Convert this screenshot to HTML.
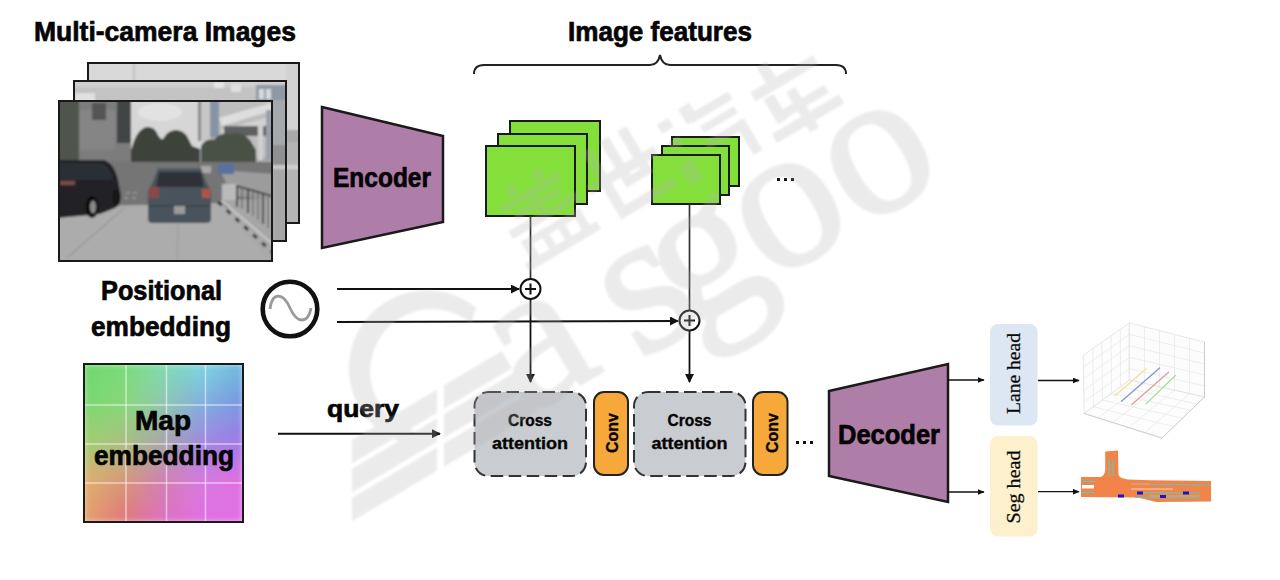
<!DOCTYPE html>
<html><head><meta charset="utf-8">
<style>
html,body{margin:0;padding:0;background:#fff;width:1280px;height:580px;overflow:hidden;}
svg{display:block;}
text{font-family:"Liberation Sans",sans-serif;font-weight:bold;fill:#050505;stroke:#050505;stroke-width:0.7;}
.serif{stroke:#222;stroke-width:0.3;}
text.sm{stroke-width:0.35;}
.serif{font-family:"Liberation Serif",serif;font-weight:normal;}
</style></head><body>
<svg width="1280" height="580" viewBox="0 0 1280 580">
<defs>
  <marker id="ah" viewBox="0 0 10 10" refX="9" refY="5" markerWidth="9" markerHeight="9" markerUnits="userSpaceOnUse" orient="auto">
    <path d="M0,0 L10,5 L0,10 z" fill="#111"/>
  </marker>
<clipPath id="cpFront"><rect x="59" y="101" width="213" height="160"/></clipPath>
<clipPath id="cpMid"><rect x="74" y="81" width="212" height="160"/></clipPath>
<clipPath id="cpBack"><rect x="88" y="63" width="211" height="160"/></clipPath>
<filter id="pblur" x="-5%" y="-5%" width="110%" height="110%"><feGaussianBlur stdDeviation="0.9"/></filter>

<clipPath id="cpMap"><rect x="84" y="364" width="159" height="158"/></clipPath>
<filter id="mblur" x="-5%" y="-5%" width="110%" height="110%"><feGaussianBlur stdDeviation="3"/></filter>
<filter id="wblur" x="-10%" y="-10%" width="120%" height="120%"><feGaussianBlur stdDeviation="1"/></filter>
<marker id="ahs" viewBox="0 0 10 10" refX="9" refY="5" markerWidth="7" markerHeight="6" markerUnits="userSpaceOnUse" orient="auto" preserveAspectRatio="none"><path d="M0,0 L10,5 L0,10 z" fill="#111"/></marker>
</defs>
<rect width="1280" height="580" fill="#fff"/>

<!-- Titles -->
<text x="34" y="41" font-size="27" textLength="262" lengthAdjust="spacingAndGlyphs">Multi-camera Images</text>
<text x="568" y="41" font-size="27" textLength="184" lengthAdjust="spacingAndGlyphs">Image features</text>

<!-- brace -->
<path d="M474,74 Q474,65 484,65 L650,65 Q658,65 660,55 Q662,65 670,65 L836,65 Q846,65 846,74" fill="none" stroke="#222" stroke-width="2"/>

<!-- camera frames -->
<g id="frames">
<!-- back frame -->
<g clip-path="url(#cpBack)"><g filter="url(#pblur)">
  <rect x="86" y="61" width="216" height="165" fill="#d9d9d9"/>
  <rect x="286" y="61" width="16" height="100" fill="#d2d2d2"/>
  <rect x="286" y="130" width="16" height="12" fill="#a9a9a9"/>
  <rect x="286" y="142" width="16" height="85" fill="#b5b5b5"/>
  <rect x="286" y="165" width="16" height="4" fill="#d0d0d0"/>
  <rect x="133" y="63" width="2" height="18" fill="#bdbdbd"/>
</g></g>
<rect x="88" y="63" width="211" height="160" fill="none" stroke="#1a1a1a" stroke-width="2"/>
<!-- middle frame -->
<g clip-path="url(#cpMid)"><g filter="url(#pblur)">
  <rect x="72" y="79" width="216" height="165" fill="#c3c3c3"/>
  <rect x="72" y="79" width="216" height="8" fill="#cfcfcf"/>
  <rect x="75" y="93" width="20" height="9" fill="#e0e0e0"/>
  <rect x="214" y="82" width="10" height="6" fill="#e6e6e6"/>
  <rect x="231" y="84" width="10" height="8" fill="#e0e0e0"/>
  <rect x="256" y="85" width="32" height="20" fill="#8f99a3"/>
  <rect x="259" y="89" width="5" height="10" fill="#d8dce0"/>
  <rect x="266" y="89" width="5" height="10" fill="#d8dce0"/>
  <rect x="272" y="100" width="16" height="45" fill="#a6a9ac"/>
  <rect x="272" y="145" width="16" height="20" fill="#8e9092"/>
  <rect x="272" y="165" width="16" height="4" fill="#c9c9c9"/>
  <rect x="272" y="169" width="16" height="75" fill="#a7a7a7"/>
</g></g>
<rect x="74" y="81" width="212" height="160" fill="none" stroke="#1a1a1a" stroke-width="2"/>
<!-- front frame -->
<g clip-path="url(#cpFront)"><g filter="url(#pblur)">
  <rect x="57" y="99" width="218" height="165" fill="#a9a9a9"/>
  <!-- sky -->
  <rect x="125" y="99" width="80" height="50" fill="#d6d6d6"/>
  <ellipse cx="160" cy="112" rx="22" ry="9" fill="#e2e2e2"/>
  <!-- left building -->
  <rect x="57" y="99" width="74" height="64" fill="#7c7c7c"/>
  <rect x="80" y="110" width="35" height="40" fill="#858585"/>
  <rect x="92" y="103" width="14" height="17" fill="#555"/>
  <rect x="117" y="99" width="14" height="44" fill="#434545"/>
  <rect x="57" y="99" width="22" height="64" fill="#4f554d"/>
  <!-- trees center -->
  <path d="M131,164 L131,150 L134,141 Q138,130 146,127 Q154,126 157,133 Q160,140 163,139 Q167,131 175,130 Q184,130 188,138 L192,146 L200,149 L200,165 Z" fill="#3d423b"/>
  <!-- tall building / glass -->
  <rect x="198" y="99" width="13" height="42" fill="#c6c6c6"/>
  <rect x="198" y="99" width="3" height="42" fill="#8a8a8a"/>
  <rect x="210" y="99" width="10" height="38" fill="#8793a5"/>
  <!-- right building -->
  <rect x="219" y="99" width="55" height="58" fill="#bdbdbd"/>
  <polygon points="219,118 274,102 274,110 222,126" fill="#dedede"/>
  <polygon points="221,130 274,116 274,123 224,137" fill="#d4d4d4"/>
  <rect x="224" y="126" width="50" height="10" fill="#5d5f60"/>
  <rect x="258" y="120" width="5" height="40" fill="#d0d0d0"/>
  <rect x="266" y="110" width="6" height="50" fill="#9aa0a8"/>
  <!-- right trees -->
  <path d="M201,166 L201,146 Q206,138 214,140 Q220,132 230,134 Q242,131 250,140 L256,150 L256,166 Z" fill="#4a5147"/>
  <!-- road -->
  <rect x="57" y="162" width="218" height="46" fill="#747476"/>
  <polygon points="220,170 274,174 274,200 232,196" fill="#9c9c9c"/>
  <rect x="218" y="164" width="16" height="10" fill="#5a70a0"/>
  <rect x="201" y="166" width="10" height="7" fill="#a8a8a8"/>
  <g fill="#9a9a9a"><rect x="126" y="192" width="4" height="1.5"/><rect x="133" y="192" width="4" height="1.5"/><rect x="124" y="197" width="4" height="1.5"/><rect x="132" y="197" width="4" height="1.5"/></g>
  <!-- sidewalk -->
  <polygon points="57,207 222,203 270,262 57,262" fill="#acacac"/>
  <polygon points="220,200 274,198 274,250" fill="#a6a6a6"/>
  <line x1="218" y1="202" x2="272" y2="252" stroke="#2e2e2e" stroke-width="3" stroke-dasharray="5 7"/>
  <line x1="222" y1="201" x2="275" y2="246" stroke="#c8c8c8" stroke-width="2"/>
  <line x1="124" y1="208" x2="67" y2="258" stroke="#8a8a8a" stroke-width="1"/>
  <line x1="178" y1="224" x2="177" y2="262" stroke="#9a9a9a" stroke-width="0.8"/>
  <rect x="222" y="184" width="15" height="16" fill="#bababa"/>
  <!-- fence -->
  <g stroke="#363b36" stroke-width="1.8">
    <line x1="237" y1="185" x2="237" y2="207"/><line x1="248" y1="189" x2="248" y2="213"/><line x1="263" y1="193" x2="263" y2="224"/>
    <line x1="237" y1="186" x2="272" y2="196"/>
  </g>
  <g stroke="#4a4f4a" stroke-width="0.9"><line x1="242" y1="188" x2="242" y2="209"/><line x1="253" y1="190" x2="253" y2="216"/><line x1="258" y1="192" x2="258" y2="220"/><line x1="268" y1="195" x2="268" y2="228"/></g>
  <!-- left black car -->
  <path d="M57,160 L104,160 Q114,163 118,180 L121,196 Q121,205 115,208 L100,214 L57,218 Z" fill="#222226"/>
  <path d="M60,163 L102,163 Q110,166 113,180 L60,180 Z" fill="#2c2f36"/>
  <rect x="60" y="181" width="15" height="4" fill="#7a4b4b"/>
  <ellipse cx="92" cy="207" rx="6.5" ry="11" fill="#101010"/>
  <ellipse cx="93" cy="207" rx="3" ry="6.5" fill="#8a8a8a"/>
  <ellipse cx="116" cy="197" rx="3.5" ry="8" fill="#151515"/>
  <!-- center car -->
  <path d="M158,168.5 L201,168.5 L206,182 L211,191 L211,219 Q211,223 206,223 L152,223 Q148,223 148,219 L148,191 L153,182 Z" fill="#4a525c"/>
  <path d="M159,172 L201,172 L204,187 L156,187 Z" fill="#2e3337"/>
  <rect x="149" y="187" width="10" height="11" fill="#8a4a48"/>
  <rect x="202" y="189" width="8" height="9" fill="#b05545"/>
  <rect x="148" y="205" width="63" height="2" fill="#3d444c"/>
  <rect x="174" y="206" width="11" height="8" fill="#9a9a9a"/>
</g></g>
<rect x="59" y="101" width="213" height="160" fill="none" stroke="#1a1a1a" stroke-width="2"/>
</g>

<!-- Encoder -->
<path d="M322,107 L443,136 L443,222 L322,248 Z" fill="#ae7ea8" stroke="#1a1a1a" stroke-width="2.5"/>
<text x="333" y="187" font-size="27" textLength="98" lengthAdjust="spacingAndGlyphs">Encoder</text>

<!-- Green stack 1 -->
<rect x="510" y="121" width="90" height="70" fill="#84df3a" stroke="#1a1a1a" stroke-width="2"/>
<rect x="498" y="134" width="89" height="70" fill="#84df3a" stroke="#1a1a1a" stroke-width="2"/>
<rect x="486" y="146" width="89" height="70" fill="#84df3a" stroke="#1a1a1a" stroke-width="2"/>
<!-- Green stack 2 -->
<rect x="672" y="137" width="67" height="49" fill="#84df3a" stroke="#1a1a1a" stroke-width="2"/>
<rect x="662" y="146" width="67" height="49" fill="#84df3a" stroke="#1a1a1a" stroke-width="2"/>
<rect x="652" y="155" width="68" height="49" fill="#84df3a" stroke="#1a1a1a" stroke-width="2"/>
<rect x="777" y="178" width="3" height="3" fill="#111"/><rect x="784" y="178" width="3" height="3" fill="#111"/><rect x="791" y="178" width="3" height="3" fill="#111"/>

<!-- stems and plus -->
<line x1="530.5" y1="216" x2="530.5" y2="279" stroke="#333" stroke-width="1.7"/>
<line x1="689.5" y1="204" x2="689.5" y2="310" stroke="#333" stroke-width="1.7"/>
<line x1="337" y1="289" x2="519" y2="289" stroke="#111" stroke-width="1.8" marker-end="url(#ah)"/>
<line x1="337" y1="322" x2="678" y2="321" stroke="#111" stroke-width="1.8" marker-end="url(#ah)"/>
<circle cx="530.5" cy="289" r="10" fill="#fff" stroke="#111" stroke-width="2"/>
<path d="M525,289 h11 M530.5,283.5 v11" stroke="#111" stroke-width="2"/>
<circle cx="689.5" cy="320.5" r="10" fill="#fff" stroke="#111" stroke-width="2"/>
<path d="M684,320.5 h11 M689.5,315 v11" stroke="#111" stroke-width="2"/>
<line x1="530.5" y1="299" x2="530.5" y2="382" stroke="#111" stroke-width="1.8" marker-end="url(#ah)"/>
<line x1="689.5" y1="330.5" x2="689.5" y2="382" stroke="#111" stroke-width="1.8" marker-end="url(#ah)"/>

<!-- positional embedding -->
<text x="101" y="300" font-size="27" textLength="121" lengthAdjust="spacingAndGlyphs">Positional</text>
<text x="91" y="336" font-size="27" textLength="140" lengthAdjust="spacingAndGlyphs">embedding</text>
<circle cx="290" cy="309" r="27.3" fill="#fff" stroke="#111" stroke-width="4.6"/>
<path d="M270,309 C272,292 283,292 290,308 C297,324 308,324 311,308" fill="none" stroke="#9a9a9a" stroke-width="2.8"/>

<!-- map embedding -->
<g clip-path="url(#cpMap)"><g filter="url(#mblur)">
<rect x="83.0" y="363.0" width="11.9" height="11.9" fill="#71d86f"/>
<rect x="92.9" y="363.0" width="11.9" height="11.9" fill="#73d972"/>
<rect x="102.9" y="363.0" width="11.9" height="11.9" fill="#76da74"/>
<rect x="112.8" y="363.0" width="11.9" height="11.9" fill="#79db77"/>
<rect x="122.8" y="363.0" width="11.9" height="11.9" fill="#7bdb7f"/>
<rect x="132.7" y="363.0" width="11.9" height="11.9" fill="#7ddb8d"/>
<rect x="142.6" y="363.0" width="11.9" height="11.9" fill="#7fda9b"/>
<rect x="152.6" y="363.0" width="11.9" height="11.9" fill="#81daa9"/>
<rect x="162.5" y="363.0" width="11.9" height="11.9" fill="#82d9b6"/>
<rect x="172.4" y="363.0" width="11.9" height="11.9" fill="#81d7c2"/>
<rect x="182.4" y="363.0" width="11.9" height="11.9" fill="#81d5ce"/>
<rect x="192.3" y="363.0" width="11.9" height="11.9" fill="#80d4da"/>
<rect x="202.2" y="363.0" width="11.9" height="11.9" fill="#7ecfe0"/>
<rect x="212.2" y="363.0" width="11.9" height="11.9" fill="#7ac7e0"/>
<rect x="222.1" y="363.0" width="11.9" height="11.9" fill="#77c0e0"/>
<rect x="232.1" y="363.0" width="11.9" height="11.9" fill="#73b8e0"/>
<rect x="83.0" y="372.9" width="11.9" height="11.9" fill="#73d870"/>
<rect x="92.9" y="372.9" width="11.9" height="11.9" fill="#76d972"/>
<rect x="102.9" y="372.9" width="11.9" height="11.9" fill="#79da75"/>
<rect x="112.8" y="372.9" width="11.9" height="11.9" fill="#7cda77"/>
<rect x="122.8" y="372.9" width="11.9" height="11.9" fill="#7fda7f"/>
<rect x="132.7" y="372.9" width="11.9" height="11.9" fill="#81d88d"/>
<rect x="142.6" y="372.9" width="11.9" height="11.9" fill="#83d79b"/>
<rect x="152.6" y="372.9" width="11.9" height="11.9" fill="#85d5a9"/>
<rect x="162.5" y="372.9" width="11.9" height="11.9" fill="#85d3b6"/>
<rect x="172.4" y="372.9" width="11.9" height="11.9" fill="#84d0c2"/>
<rect x="182.4" y="372.9" width="11.9" height="11.9" fill="#82cdce"/>
<rect x="192.3" y="372.9" width="11.9" height="11.9" fill="#81cada"/>
<rect x="202.2" y="372.9" width="11.9" height="11.9" fill="#7ec5e0"/>
<rect x="212.2" y="372.9" width="11.9" height="11.9" fill="#7bbee0"/>
<rect x="222.1" y="372.9" width="11.9" height="11.9" fill="#78b7e0"/>
<rect x="232.1" y="372.9" width="11.9" height="11.9" fill="#75b0e0"/>
<rect x="83.0" y="382.8" width="11.9" height="11.9" fill="#76d870"/>
<rect x="92.9" y="382.8" width="11.9" height="11.9" fill="#79d973"/>
<rect x="102.9" y="382.8" width="11.9" height="11.9" fill="#7dd975"/>
<rect x="112.8" y="382.8" width="11.9" height="11.9" fill="#80d977"/>
<rect x="122.8" y="382.8" width="11.9" height="11.9" fill="#83d87f"/>
<rect x="132.7" y="382.8" width="11.9" height="11.9" fill="#85d68d"/>
<rect x="142.6" y="382.8" width="11.9" height="11.9" fill="#87d39b"/>
<rect x="152.6" y="382.8" width="11.9" height="11.9" fill="#89d1a9"/>
<rect x="162.5" y="382.8" width="11.9" height="11.9" fill="#89cdb6"/>
<rect x="172.4" y="382.8" width="11.9" height="11.9" fill="#86c9c2"/>
<rect x="182.4" y="382.8" width="11.9" height="11.9" fill="#84c5ce"/>
<rect x="192.3" y="382.8" width="11.9" height="11.9" fill="#81c1da"/>
<rect x="202.2" y="382.8" width="11.9" height="11.9" fill="#7fbce0"/>
<rect x="212.2" y="382.8" width="11.9" height="11.9" fill="#7cb5e0"/>
<rect x="222.1" y="382.8" width="11.9" height="11.9" fill="#79aee0"/>
<rect x="232.1" y="382.8" width="11.9" height="11.9" fill="#76a7e0"/>
<rect x="83.0" y="392.6" width="11.9" height="11.9" fill="#79d871"/>
<rect x="92.9" y="392.6" width="11.9" height="11.9" fill="#7cd873"/>
<rect x="102.9" y="392.6" width="11.9" height="11.9" fill="#80d875"/>
<rect x="112.8" y="392.6" width="11.9" height="11.9" fill="#84d877"/>
<rect x="122.8" y="392.6" width="11.9" height="11.9" fill="#87d77f"/>
<rect x="132.7" y="392.6" width="11.9" height="11.9" fill="#89d38d"/>
<rect x="142.6" y="392.6" width="11.9" height="11.9" fill="#8bd09b"/>
<rect x="152.6" y="392.6" width="11.9" height="11.9" fill="#8dcca9"/>
<rect x="162.5" y="392.6" width="11.9" height="11.9" fill="#8cc8b6"/>
<rect x="172.4" y="392.6" width="11.9" height="11.9" fill="#89c2c2"/>
<rect x="182.4" y="392.6" width="11.9" height="11.9" fill="#85bdce"/>
<rect x="192.3" y="392.6" width="11.9" height="11.9" fill="#82b8da"/>
<rect x="202.2" y="392.6" width="11.9" height="11.9" fill="#7fb2e0"/>
<rect x="212.2" y="392.6" width="11.9" height="11.9" fill="#7dace0"/>
<rect x="222.1" y="392.6" width="11.9" height="11.9" fill="#7aa5e0"/>
<rect x="232.1" y="392.6" width="11.9" height="11.9" fill="#789fe0"/>
<rect x="83.0" y="402.5" width="11.9" height="11.9" fill="#7fd771"/>
<rect x="92.9" y="402.5" width="11.9" height="11.9" fill="#83d673"/>
<rect x="102.9" y="402.5" width="11.9" height="11.9" fill="#86d676"/>
<rect x="112.8" y="402.5" width="11.9" height="11.9" fill="#8ad578"/>
<rect x="122.8" y="402.5" width="11.9" height="11.9" fill="#8dd380"/>
<rect x="132.7" y="402.5" width="11.9" height="11.9" fill="#8fcf8d"/>
<rect x="142.6" y="402.5" width="11.9" height="11.9" fill="#90ca9b"/>
<rect x="152.6" y="402.5" width="11.9" height="11.9" fill="#92c6a8"/>
<rect x="162.5" y="402.5" width="11.9" height="11.9" fill="#91c1b5"/>
<rect x="172.4" y="402.5" width="11.9" height="11.9" fill="#8dbbc1"/>
<rect x="182.4" y="402.5" width="11.9" height="11.9" fill="#8ab4ce"/>
<rect x="192.3" y="402.5" width="11.9" height="11.9" fill="#86aeda"/>
<rect x="202.2" y="402.5" width="11.9" height="11.9" fill="#83a8e0"/>
<rect x="212.2" y="402.5" width="11.9" height="11.9" fill="#81a2e0"/>
<rect x="222.1" y="402.5" width="11.9" height="11.9" fill="#809de1"/>
<rect x="232.1" y="402.5" width="11.9" height="11.9" fill="#7e97e1"/>
<rect x="83.0" y="412.4" width="11.9" height="11.9" fill="#89d471"/>
<rect x="92.9" y="412.4" width="11.9" height="11.9" fill="#8cd374"/>
<rect x="102.9" y="412.4" width="11.9" height="11.9" fill="#8fd177"/>
<rect x="112.8" y="412.4" width="11.9" height="11.9" fill="#92d07a"/>
<rect x="122.8" y="412.4" width="11.9" height="11.9" fill="#95cd81"/>
<rect x="132.7" y="412.4" width="11.9" height="11.9" fill="#96c88e"/>
<rect x="142.6" y="412.4" width="11.9" height="11.9" fill="#97c39a"/>
<rect x="152.6" y="412.4" width="11.9" height="11.9" fill="#98bea7"/>
<rect x="162.5" y="412.4" width="11.9" height="11.9" fill="#97b9b3"/>
<rect x="172.4" y="412.4" width="11.9" height="11.9" fill="#94b2c0"/>
<rect x="182.4" y="412.4" width="11.9" height="11.9" fill="#91abcd"/>
<rect x="192.3" y="412.4" width="11.9" height="11.9" fill="#8ea4da"/>
<rect x="202.2" y="412.4" width="11.9" height="11.9" fill="#8b9ee0"/>
<rect x="212.2" y="412.4" width="11.9" height="11.9" fill="#8a99e1"/>
<rect x="222.1" y="412.4" width="11.9" height="11.9" fill="#8994e2"/>
<rect x="232.1" y="412.4" width="11.9" height="11.9" fill="#888fe3"/>
<rect x="83.0" y="422.2" width="11.9" height="11.9" fill="#92d272"/>
<rect x="92.9" y="422.2" width="11.9" height="11.9" fill="#95cf75"/>
<rect x="102.9" y="422.2" width="11.9" height="11.9" fill="#98cd78"/>
<rect x="112.8" y="422.2" width="11.9" height="11.9" fill="#9bca7b"/>
<rect x="122.8" y="422.2" width="11.9" height="11.9" fill="#9cc683"/>
<rect x="132.7" y="422.2" width="11.9" height="11.9" fill="#9dc18e"/>
<rect x="142.6" y="422.2" width="11.9" height="11.9" fill="#9ebc9a"/>
<rect x="152.6" y="422.2" width="11.9" height="11.9" fill="#9fb7a5"/>
<rect x="162.5" y="422.2" width="11.9" height="11.9" fill="#9eb0b2"/>
<rect x="172.4" y="422.2" width="11.9" height="11.9" fill="#9ba9bf"/>
<rect x="182.4" y="422.2" width="11.9" height="11.9" fill="#98a2cc"/>
<rect x="192.3" y="422.2" width="11.9" height="11.9" fill="#959bd9"/>
<rect x="202.2" y="422.2" width="11.9" height="11.9" fill="#9495e1"/>
<rect x="212.2" y="422.2" width="11.9" height="11.9" fill="#9390e2"/>
<rect x="222.1" y="422.2" width="11.9" height="11.9" fill="#928be3"/>
<rect x="232.1" y="422.2" width="11.9" height="11.9" fill="#9186e4"/>
<rect x="83.0" y="432.1" width="11.9" height="11.9" fill="#9ccf72"/>
<rect x="92.9" y="432.1" width="11.9" height="11.9" fill="#9ecc76"/>
<rect x="102.9" y="432.1" width="11.9" height="11.9" fill="#a1c879"/>
<rect x="112.8" y="432.1" width="11.9" height="11.9" fill="#a3c57d"/>
<rect x="122.8" y="432.1" width="11.9" height="11.9" fill="#a4c084"/>
<rect x="132.7" y="432.1" width="11.9" height="11.9" fill="#a4ba8f"/>
<rect x="142.6" y="432.1" width="11.9" height="11.9" fill="#a5b599"/>
<rect x="152.6" y="432.1" width="11.9" height="11.9" fill="#a5afa4"/>
<rect x="162.5" y="432.1" width="11.9" height="11.9" fill="#a4a8b0"/>
<rect x="172.4" y="432.1" width="11.9" height="11.9" fill="#a2a0be"/>
<rect x="182.4" y="432.1" width="11.9" height="11.9" fill="#9f99cb"/>
<rect x="192.3" y="432.1" width="11.9" height="11.9" fill="#9d91d9"/>
<rect x="202.2" y="432.1" width="11.9" height="11.9" fill="#9c8be1"/>
<rect x="212.2" y="432.1" width="11.9" height="11.9" fill="#9c87e3"/>
<rect x="222.1" y="432.1" width="11.9" height="11.9" fill="#9b82e4"/>
<rect x="232.1" y="432.1" width="11.9" height="11.9" fill="#9b7ee6"/>
<rect x="83.0" y="442.0" width="11.9" height="11.9" fill="#a9ca72"/>
<rect x="92.9" y="442.0" width="11.9" height="11.9" fill="#aac676"/>
<rect x="102.9" y="442.0" width="11.9" height="11.9" fill="#acc179"/>
<rect x="112.8" y="442.0" width="11.9" height="11.9" fill="#adbd7d"/>
<rect x="122.8" y="442.0" width="11.9" height="11.9" fill="#aeb884"/>
<rect x="132.7" y="442.0" width="11.9" height="11.9" fill="#aeb28f"/>
<rect x="142.6" y="442.0" width="11.9" height="11.9" fill="#adac99"/>
<rect x="152.6" y="442.0" width="11.9" height="11.9" fill="#ada6a4"/>
<rect x="162.5" y="442.0" width="11.9" height="11.9" fill="#ac9fb0"/>
<rect x="172.4" y="442.0" width="11.9" height="11.9" fill="#ab98be"/>
<rect x="182.4" y="442.0" width="11.9" height="11.9" fill="#a991cb"/>
<rect x="192.3" y="442.0" width="11.9" height="11.9" fill="#a88ad9"/>
<rect x="202.2" y="442.0" width="11.9" height="11.9" fill="#a784e1"/>
<rect x="212.2" y="442.0" width="11.9" height="11.9" fill="#a780e3"/>
<rect x="222.1" y="442.0" width="11.9" height="11.9" fill="#a87de4"/>
<rect x="232.1" y="442.0" width="11.9" height="11.9" fill="#a879e6"/>
<rect x="83.0" y="451.9" width="11.9" height="11.9" fill="#b8c272"/>
<rect x="92.9" y="451.9" width="11.9" height="11.9" fill="#b9bd75"/>
<rect x="102.9" y="451.9" width="11.9" height="11.9" fill="#b9b878"/>
<rect x="112.8" y="451.9" width="11.9" height="11.9" fill="#bab37b"/>
<rect x="122.8" y="451.9" width="11.9" height="11.9" fill="#baae83"/>
<rect x="132.7" y="451.9" width="11.9" height="11.9" fill="#b9a88e"/>
<rect x="142.6" y="451.9" width="11.9" height="11.9" fill="#b8a29a"/>
<rect x="152.6" y="451.9" width="11.9" height="11.9" fill="#b79ca5"/>
<rect x="162.5" y="451.9" width="11.9" height="11.9" fill="#b796b2"/>
<rect x="172.4" y="451.9" width="11.9" height="11.9" fill="#b690bf"/>
<rect x="182.4" y="451.9" width="11.9" height="11.9" fill="#b68bcc"/>
<rect x="192.3" y="451.9" width="11.9" height="11.9" fill="#b585d9"/>
<rect x="202.2" y="451.9" width="11.9" height="11.9" fill="#b580e1"/>
<rect x="212.2" y="451.9" width="11.9" height="11.9" fill="#b67de2"/>
<rect x="222.1" y="451.9" width="11.9" height="11.9" fill="#b77ae3"/>
<rect x="232.1" y="451.9" width="11.9" height="11.9" fill="#b877e4"/>
<rect x="83.0" y="461.8" width="11.9" height="11.9" fill="#c8b971"/>
<rect x="92.9" y="461.8" width="11.9" height="11.9" fill="#c7b474"/>
<rect x="102.9" y="461.8" width="11.9" height="11.9" fill="#c7af77"/>
<rect x="112.8" y="461.8" width="11.9" height="11.9" fill="#c6aa7a"/>
<rect x="122.8" y="461.8" width="11.9" height="11.9" fill="#c5a481"/>
<rect x="132.7" y="461.8" width="11.9" height="11.9" fill="#c49e8e"/>
<rect x="142.6" y="461.8" width="11.9" height="11.9" fill="#c3989a"/>
<rect x="152.6" y="461.8" width="11.9" height="11.9" fill="#c292a7"/>
<rect x="162.5" y="461.8" width="11.9" height="11.9" fill="#c18db3"/>
<rect x="172.4" y="461.8" width="11.9" height="11.9" fill="#c289c0"/>
<rect x="182.4" y="461.8" width="11.9" height="11.9" fill="#c284cd"/>
<rect x="192.3" y="461.8" width="11.9" height="11.9" fill="#c380da"/>
<rect x="202.2" y="461.8" width="11.9" height="11.9" fill="#c47de0"/>
<rect x="212.2" y="461.8" width="11.9" height="11.9" fill="#c57ae1"/>
<rect x="222.1" y="461.8" width="11.9" height="11.9" fill="#c677e2"/>
<rect x="232.1" y="461.8" width="11.9" height="11.9" fill="#c774e3"/>
<rect x="83.0" y="471.6" width="11.9" height="11.9" fill="#d7b171"/>
<rect x="92.9" y="471.6" width="11.9" height="11.9" fill="#d6ab73"/>
<rect x="102.9" y="471.6" width="11.9" height="11.9" fill="#d4a676"/>
<rect x="112.8" y="471.6" width="11.9" height="11.9" fill="#d3a078"/>
<rect x="122.8" y="471.6" width="11.9" height="11.9" fill="#d19a80"/>
<rect x="132.7" y="471.6" width="11.9" height="11.9" fill="#cf948d"/>
<rect x="142.6" y="471.6" width="11.9" height="11.9" fill="#ce8e9b"/>
<rect x="152.6" y="471.6" width="11.9" height="11.9" fill="#cc88a8"/>
<rect x="162.5" y="471.6" width="11.9" height="11.9" fill="#cc84b5"/>
<rect x="172.4" y="471.6" width="11.9" height="11.9" fill="#cd81c1"/>
<rect x="182.4" y="471.6" width="11.9" height="11.9" fill="#cf7ece"/>
<rect x="192.3" y="471.6" width="11.9" height="11.9" fill="#d07bda"/>
<rect x="202.2" y="471.6" width="11.9" height="11.9" fill="#d279e0"/>
<rect x="212.2" y="471.6" width="11.9" height="11.9" fill="#d477e0"/>
<rect x="222.1" y="471.6" width="11.9" height="11.9" fill="#d574e1"/>
<rect x="232.1" y="471.6" width="11.9" height="11.9" fill="#d772e1"/>
<rect x="83.0" y="481.5" width="11.9" height="11.9" fill="#e0ab71"/>
<rect x="92.9" y="481.5" width="11.9" height="11.9" fill="#dea473"/>
<rect x="102.9" y="481.5" width="11.9" height="11.9" fill="#dc9e75"/>
<rect x="112.8" y="481.5" width="11.9" height="11.9" fill="#da9777"/>
<rect x="122.8" y="481.5" width="11.9" height="11.9" fill="#d8917f"/>
<rect x="132.7" y="481.5" width="11.9" height="11.9" fill="#d68c8e"/>
<rect x="142.6" y="481.5" width="11.9" height="11.9" fill="#d5869c"/>
<rect x="152.6" y="481.5" width="11.9" height="11.9" fill="#d381ab"/>
<rect x="162.5" y="481.5" width="11.9" height="11.9" fill="#d37db8"/>
<rect x="172.4" y="481.5" width="11.9" height="11.9" fill="#d57bc3"/>
<rect x="182.4" y="481.5" width="11.9" height="11.9" fill="#d67acf"/>
<rect x="192.3" y="481.5" width="11.9" height="11.9" fill="#d878da"/>
<rect x="202.2" y="481.5" width="11.9" height="11.9" fill="#da76e0"/>
<rect x="212.2" y="481.5" width="11.9" height="11.9" fill="#dc74e0"/>
<rect x="222.1" y="481.5" width="11.9" height="11.9" fill="#dd73e1"/>
<rect x="232.1" y="481.5" width="11.9" height="11.9" fill="#df71e1"/>
<rect x="83.0" y="491.4" width="11.9" height="11.9" fill="#e2a671"/>
<rect x="92.9" y="491.4" width="11.9" height="11.9" fill="#e09f73"/>
<rect x="102.9" y="491.4" width="11.9" height="11.9" fill="#de9775"/>
<rect x="112.8" y="491.4" width="11.9" height="11.9" fill="#dc9077"/>
<rect x="122.8" y="491.4" width="11.9" height="11.9" fill="#da8a80"/>
<rect x="132.7" y="491.4" width="11.9" height="11.9" fill="#d9858f"/>
<rect x="142.6" y="491.4" width="11.9" height="11.9" fill="#d8819f"/>
<rect x="152.6" y="491.4" width="11.9" height="11.9" fill="#d77cae"/>
<rect x="162.5" y="491.4" width="11.9" height="11.9" fill="#d779bb"/>
<rect x="172.4" y="491.4" width="11.9" height="11.9" fill="#d878c6"/>
<rect x="182.4" y="491.4" width="11.9" height="11.9" fill="#d977d0"/>
<rect x="192.3" y="491.4" width="11.9" height="11.9" fill="#da76db"/>
<rect x="202.2" y="491.4" width="11.9" height="11.9" fill="#dc74e0"/>
<rect x="212.2" y="491.4" width="11.9" height="11.9" fill="#dd73e1"/>
<rect x="222.1" y="491.4" width="11.9" height="11.9" fill="#de72e2"/>
<rect x="232.1" y="491.4" width="11.9" height="11.9" fill="#df71e3"/>
<rect x="83.0" y="501.2" width="11.9" height="11.9" fill="#e4a271"/>
<rect x="92.9" y="501.2" width="11.9" height="11.9" fill="#e29973"/>
<rect x="102.9" y="501.2" width="11.9" height="11.9" fill="#e09175"/>
<rect x="112.8" y="501.2" width="11.9" height="11.9" fill="#de8877"/>
<rect x="122.8" y="501.2" width="11.9" height="11.9" fill="#dd8280"/>
<rect x="132.7" y="501.2" width="11.9" height="11.9" fill="#dc7f91"/>
<rect x="142.6" y="501.2" width="11.9" height="11.9" fill="#db7ba1"/>
<rect x="152.6" y="501.2" width="11.9" height="11.9" fill="#da78b2"/>
<rect x="162.5" y="501.2" width="11.9" height="11.9" fill="#da76bf"/>
<rect x="172.4" y="501.2" width="11.9" height="11.9" fill="#db75c8"/>
<rect x="182.4" y="501.2" width="11.9" height="11.9" fill="#dc74d2"/>
<rect x="192.3" y="501.2" width="11.9" height="11.9" fill="#dd73db"/>
<rect x="202.2" y="501.2" width="11.9" height="11.9" fill="#dd73e1"/>
<rect x="212.2" y="501.2" width="11.9" height="11.9" fill="#de72e2"/>
<rect x="222.1" y="501.2" width="11.9" height="11.9" fill="#df71e3"/>
<rect x="232.1" y="501.2" width="11.9" height="11.9" fill="#e070e4"/>
<rect x="83.0" y="511.1" width="11.9" height="11.9" fill="#e69d71"/>
<rect x="92.9" y="511.1" width="11.9" height="11.9" fill="#e49473"/>
<rect x="102.9" y="511.1" width="11.9" height="11.9" fill="#e28a75"/>
<rect x="112.8" y="511.1" width="11.9" height="11.9" fill="#e08177"/>
<rect x="122.8" y="511.1" width="11.9" height="11.9" fill="#df7b81"/>
<rect x="132.7" y="511.1" width="11.9" height="11.9" fill="#df7892"/>
<rect x="142.6" y="511.1" width="11.9" height="11.9" fill="#de76a4"/>
<rect x="152.6" y="511.1" width="11.9" height="11.9" fill="#de73b5"/>
<rect x="162.5" y="511.1" width="11.9" height="11.9" fill="#de72c2"/>
<rect x="172.4" y="511.1" width="11.9" height="11.9" fill="#de72cb"/>
<rect x="182.4" y="511.1" width="11.9" height="11.9" fill="#df71d3"/>
<rect x="192.3" y="511.1" width="11.9" height="11.9" fill="#df71dc"/>
<rect x="202.2" y="511.1" width="11.9" height="11.9" fill="#df71e1"/>
<rect x="212.2" y="511.1" width="11.9" height="11.9" fill="#df71e3"/>
<rect x="222.1" y="511.1" width="11.9" height="11.9" fill="#e070e4"/>
<rect x="232.1" y="511.1" width="11.9" height="11.9" fill="#e070e6"/>
</g>
<g stroke="#ffffff" stroke-opacity="0.55" stroke-width="1.5"><line x1="126" y1="364" x2="126" y2="522"/><line x1="166.5" y1="364" x2="166.5" y2="522"/><line x1="205.5" y1="364" x2="205.5" y2="522"/><line x1="84" y1="405" x2="243" y2="405"/><line x1="84" y1="444" x2="243" y2="444"/><line x1="84" y1="483" x2="243" y2="483"/></g></g>
<rect x="84" y="364" width="159" height="158" fill="none" stroke="#1a1a1a" stroke-width="2"/>
<text x="135" y="430" font-size="27" textLength="56" lengthAdjust="spacingAndGlyphs">Map</text>
<text x="94" y="465" font-size="27" textLength="140" lengthAdjust="spacingAndGlyphs">embedding</text>

<!-- query -->
<text x="327" y="417" font-size="24" textLength="72" lengthAdjust="spacingAndGlyphs">query</text>
<line x1="278" y1="433.7" x2="440" y2="433.7" stroke="#111" stroke-width="2" marker-end="url(#ah)"/>

<!-- cross attention -->
<rect x="474.5" y="392" width="111.5" height="84" rx="14" fill="#c9ccd0" stroke="#333" stroke-width="2" stroke-dasharray="12.5 5.5"/>
<text x="508" y="425.5" class="sm" font-size="16" textLength="44" lengthAdjust="spacingAndGlyphs">Cross</text>
<text x="492" y="449" class="sm" font-size="16" textLength="76" lengthAdjust="spacingAndGlyphs">attention</text>
<rect x="594" y="392" width="34" height="83" rx="10" fill="#f6a83b" stroke="#222" stroke-width="2"/>
<text transform="translate(618,453) rotate(-90)" x="0" y="0" class="sm" font-size="16" textLength="40" lengthAdjust="spacingAndGlyphs">Conv</text>

<rect x="634" y="392" width="111.5" height="84" rx="14" fill="#c9ccd0" stroke="#333" stroke-width="2" stroke-dasharray="12.5 5.5"/>
<text x="667.5" y="425.5" class="sm" font-size="16" textLength="44" lengthAdjust="spacingAndGlyphs">Cross</text>
<text x="651.5" y="449" class="sm" font-size="16" textLength="76" lengthAdjust="spacingAndGlyphs">attention</text>
<rect x="753" y="392" width="34.5" height="83" rx="10" fill="#f6a83b" stroke="#222" stroke-width="2"/>
<text transform="translate(777.5,453) rotate(-90)" x="0" y="0" class="sm" font-size="16" textLength="40" lengthAdjust="spacingAndGlyphs">Conv</text>
<rect x="796" y="441" width="3" height="3" fill="#111"/><rect x="803" y="441" width="3" height="3" fill="#111"/><rect x="810" y="441" width="3" height="3" fill="#111"/>

<!-- decoder -->
<path d="M829,391 L948,364 L948,502 L829,476 Z" fill="#ae7ea8" stroke="#1a1a1a" stroke-width="2.5"/>
<text x="838" y="444" font-size="27" textLength="102" lengthAdjust="spacingAndGlyphs">Decoder</text>
<line x1="948" y1="380" x2="984" y2="380" stroke="#111" stroke-width="1.3" marker-end="url(#ahs)"/>
<line x1="948" y1="492" x2="984" y2="492" stroke="#111" stroke-width="1.3" marker-end="url(#ahs)"/>

<!-- heads -->
<rect x="990" y="324" width="47.5" height="101.5" rx="8" fill="#dde7f3"/>
<rect x="990" y="436" width="47.5" height="100.5" rx="8" fill="#fdf0cd"/>
<text class="serif" transform="translate(1020,414) rotate(-90)" font-size="19" textLength="81" lengthAdjust="spacingAndGlyphs">Lane head</text>
<text class="serif" transform="translate(1020,523.5) rotate(-90)" font-size="19" textLength="73" lengthAdjust="spacingAndGlyphs">Seg head</text>
<line x1="1038" y1="380.5" x2="1079" y2="380.5" stroke="#111" stroke-width="1.3" marker-end="url(#ahs)"/>
<line x1="1038" y1="491.7" x2="1079" y2="491.7" stroke="#111" stroke-width="1.3" marker-end="url(#ahs)"/>

<!-- 3D plot -->
<g id="plot3d" fill="none" stroke-linecap="round">
  <!-- panes -->
  <polygon points="1083.5,355 1129.5,323 1129.5,380 1084.5,413.5" fill="#fdfdfd" stroke="#dcdcdc" stroke-width="0.7"/>
  <polygon points="1129.5,323 1204.5,342 1204.5,397 1129.5,380" fill="#fcfcfc" stroke="#dcdcdc" stroke-width="0.7"/>
  <polygon points="1084.5,413.5 1129.5,380 1204.5,397 1162,438" fill="#fdfdfd" stroke="#dcdcdc" stroke-width="0.7"/>
  <g stroke="#e2e2e2" stroke-width="0.6">
    <!-- left wall verticals -->
    <line x1="1092.7" y1="348.6" x2="1093.5" y2="406.8"/><line x1="1101.9" y1="342.2" x2="1102.5" y2="400.1"/><line x1="1111.1" y1="335.8" x2="1111.5" y2="393.4"/><line x1="1120.3" y1="329.4" x2="1120.5" y2="386.7"/>
    <!-- left wall horizontals -->
    <line x1="1083.7" y1="366.7" x2="1129.5" y2="334.4"/><line x1="1084" y1="378.4" x2="1129.5" y2="345.8"/><line x1="1084.2" y1="390" x2="1129.5" y2="357.2"/><line x1="1084.4" y1="401.8" x2="1129.5" y2="368.6"/>
    <!-- back wall verticals -->
    <line x1="1144.5" y1="326.8" x2="1144.5" y2="383.4"/><line x1="1159.5" y1="330.6" x2="1159.5" y2="386.8"/><line x1="1174.5" y1="334.4" x2="1174.5" y2="390.2"/><line x1="1189.5" y1="338.2" x2="1189.5" y2="393.6"/>
    <!-- back wall horizontals -->
    <line x1="1129.5" y1="334.4" x2="1204.5" y2="353"/><line x1="1129.5" y1="345.8" x2="1204.5" y2="364"/><line x1="1129.5" y1="357.2" x2="1204.5" y2="375"/><line x1="1129.5" y1="368.6" x2="1204.5" y2="386"/>
    <!-- floor lines -->
    <line x1="1093.5" y1="406.8" x2="1173.5" y2="426.5"/><line x1="1102.5" y1="400.1" x2="1182" y2="418"/><line x1="1111.5" y1="393.4" x2="1190" y2="410"/><line x1="1120.5" y1="386.7" x2="1197" y2="404"/>
    <line x1="1144.5" y1="383.4" x2="1097" y2="418.5"/><line x1="1159.5" y1="386.8" x2="1111" y2="423.5"/><line x1="1174.5" y1="390.2" x2="1127" y2="429"/><line x1="1189.5" y1="393.6" x2="1144" y2="433.5"/>
  </g>
  <g stroke="#bbb" stroke-width="0.6">
    <line x1="1084.5" y1="413.5" x2="1162" y2="438"/><line x1="1162" y1="438" x2="1204.5" y2="397"/>
    <line x1="1204.5" y1="342" x2="1204.5" y2="397"/>
  </g>
  <line x1="1114.8" y1="395.7" x2="1146.2" y2="368.8" stroke="#eee58a" stroke-width="1.2"/>
  <line x1="1121.5" y1="401.3" x2="1159.6" y2="368" stroke="#8a90d8" stroke-width="1.2"/>
  <line x1="1131.6" y1="404.7" x2="1168.6" y2="372.2" stroke="#e09a9a" stroke-width="1.2"/>
  <line x1="1146.2" y1="403.6" x2="1175.4" y2="375.5" stroke="#98e098" stroke-width="1.2"/>
</g>
<!-- seg map -->
<g id="segmap">
  <path d="M1105.2,451.5 L1118,450.5 L1118.5,475 Q1120,478.5 1128,479.5 L1150,480.2 L1211,481 L1211,501.5 L1156,502 L1138,497.5 L1081,497 L1081,477 L1101,477 Q1105,475 1105.2,470 Z" fill="#f2844a"/>
  <g stroke="#5ec8c0" stroke-width="1.2">
    <line x1="1109" y1="459" x2="1109" y2="476"/><line x1="1113" y1="459" x2="1113" y2="476"/>
    <line x1="1082" y1="481.5" x2="1095" y2="481.5"/><line x1="1082" y1="492.5" x2="1095" y2="492.5"/>
    <line x1="1150" y1="484.5" x2="1210" y2="485"/><line x1="1136" y1="492.8" x2="1200" y2="493"/>
    <line x1="1135" y1="497.5" x2="1200" y2="498"/>
  </g>
  <g stroke="#c8b090" stroke-width="1.2">
    <line x1="1131" y1="484" x2="1150" y2="484.2"/><line x1="1150" y1="496" x2="1199" y2="496"/>
  </g>
  <rect x="1082" y="485" width="12" height="3.5" fill="#ffffff"/>
  <line x1="1131" y1="489" x2="1173" y2="489" stroke="#f8d0b8" stroke-width="1"/>
  <g fill="#1515c8">
    <rect x="1118" y="494.5" width="6" height="3"/><rect x="1137" y="491.5" width="6" height="3"/>
    <rect x="1160" y="495" width="6" height="3"/><rect x="1183" y="491.5" width="6" height="3"/>
  </g>
</g>

<g id="wm" opacity="0.26" filter="url(#wblur)"><g transform="translate(791,215.3) rotate(-30.7)" fill="#b4b4b4" stroke="none">
<text x="-330.0" y="37.7" style="font-family:'Liberation Serif',serif;font-weight:normal;fill:#b4b4b4;stroke:#b4b4b4;stroke-width:3" font-size="207">a</text>
<text x="-205.0" y="47.7" style="font-family:'Liberation Serif',serif;font-weight:normal;fill:#b4b4b4;stroke:#b4b4b4;stroke-width:3" font-size="207">s</text>
<text x="-148.6" y="47.7" style="font-family:'Liberation Serif',serif;font-weight:normal;fill:#b4b4b4;stroke:#b4b4b4;stroke-width:3" font-size="207">g</text>
<text x="-51.8" y="47.7" style="font-family:'Liberation Serif',serif;font-weight:normal;fill:#b4b4b4;stroke:#b4b4b4;stroke-width:3" font-size="207">o</text>
<text x="51.8" y="47.7" style="font-family:'Liberation Serif',serif;font-weight:normal;fill:#b4b4b4;stroke:#b4b4b4;stroke-width:3" font-size="207">o</text>
<path d="M-318.0,-81.2 A78,78 0 1 0 -449.3,-2.3 L-434.3,-7.8 A62,62 0 1 1 -329.9,-70.5 Z"/>
<polygon points="-492.1,-31 -393.3,-31 -405.2,-11 -504.0,-11"/>
<polygon points="-385.2,-31 -318,-31 -318,-11 -397.0,-11"/>
<polygon points="-507.0,-6 -408.1,-6 -420.0,14 -518.9,14"/>
<polygon points="-400.0,-6 -318,-6 -318,14 -411.9,14"/>
<polygon points="-521.8,19 -423.0,19 -434.9,39 -533.7,39"/>
<polygon points="-414.8,19 -318,19 -318,39 -426.7,39"/>
<g transform="translate(-212.0,-128.0) scale(1.3)"><rect x="-16" y="-32" width="8" height="9"/><rect x="8" y="-32" width="8" height="9"/><rect x="-26" y="-22" width="52" height="7"/><rect x="-20" y="-12" width="40" height="6"/><rect x="-30" y="-2" width="60" height="7"/><rect x="-4" y="-22" width="8" height="24"/><rect x="-26" y="10" width="52" height="6"/><rect x="-26" y="10" width="7" height="20"/><rect x="19" y="10" width="7" height="20"/><rect x="-10" y="10" width="6" height="20"/><rect x="4" y="10" width="6" height="20"/><rect x="-32" y="26" width="64" height="7"/></g>
<g transform="translate(-122.0,-122.0) scale(1.3)"><rect x="-30" y="-6" width="60" height="8"/><rect x="-20" y="-30" width="8" height="52"/><rect x="-4" y="-30" width="8" height="34"/><rect x="12" y="-30" width="8" height="34"/><rect x="-4" y="4" width="24" height="7"/><rect x="-20" y="22" width="50" height="8"/></g>
<g transform="translate(-30.0,-110.0) scale(1.3)"><rect x="-30" y="-28" width="10" height="8"/><rect x="-30" y="-12" width="10" height="8"/><rect x="-32" y="8" width="12" height="18"/><rect x="-10" y="-30" width="10" height="14"/><rect x="-6" y="-22" width="36" height="7"/><rect x="-2" y="-10" width="30" height="6"/><rect x="-6" y="2" width="34" height="7"/><rect x="22" y="2" width="8" height="28"/></g>
<g transform="translate(64.0,-103.0) scale(1.3)"><rect x="-28" y="-18" width="56" height="8"/><rect x="-14" y="-32" width="9" height="20"/><rect x="-22" y="-8" width="9" height="22"/><rect x="-20" y="6" width="44" height="7"/><rect x="-30" y="18" width="60" height="8"/><rect x="-4" y="-4" width="8" height="36"/></g>
</g></g>
</svg>
</body></html>
